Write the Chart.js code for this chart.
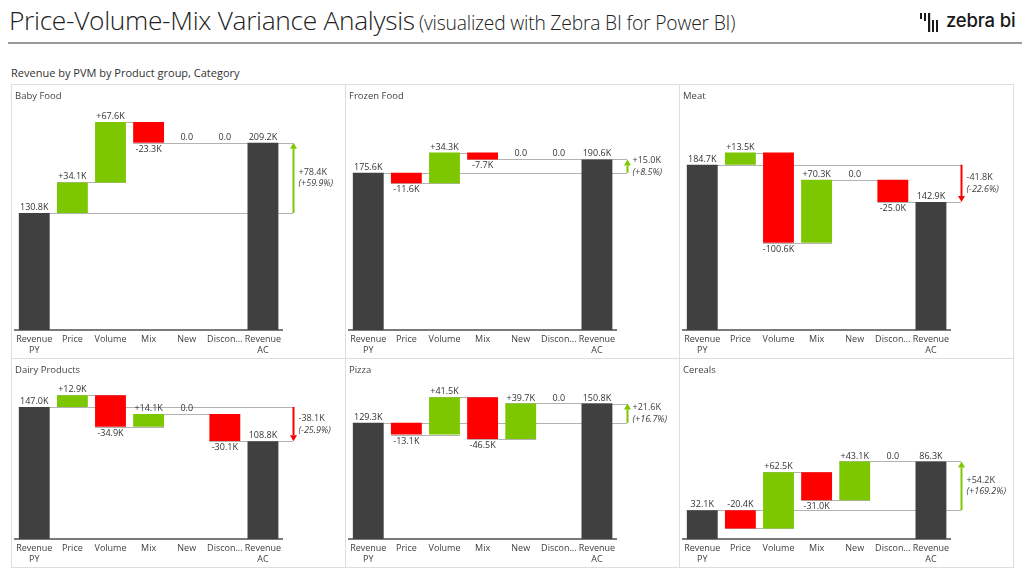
<!DOCTYPE html>
<html>
<head>
<meta charset="utf-8">
<script src="https://cdn.jsdelivr.net/npm/chart.js@4.4.1/dist/chart.umd.min.js"></script>
<style>
  html,body{margin:0;padding:0;background:#fff;}
  body{width:1030px;height:577px;position:relative;overflow:hidden;font-family:"Open Sans","Noto Sans",sans-serif;color:#333;}
  #title{position:absolute;left:9px;top:2px;white-space:nowrap;color:#222;}
  #title .main{font-size:26.3px;font-weight:300;letter-spacing:-0.3px;}
  #title .sub{font-size:19.3px;font-weight:300;letter-spacing:-0.2px;}
  #rule{position:absolute;left:8px;top:42px;width:1014px;height:2px;background:#9a9a9a;}
  #logo{position:absolute;left:919px;top:10px;}
  #logotext{position:absolute;left:946px;top:9px;font-family:Inter,"Open Sans",sans-serif;font-size:18.5px;font-weight:500;color:#1a1a1a;letter-spacing:-0.2px;}
  #caption{position:absolute;left:11px;top:65px;font-size:11px;color:#333;}
  .panel{position:absolute;box-sizing:border-box;border:1px solid #dedede;}
  .panel .ptitle{position:absolute;left:3px;top:4px;font-size:9.5px;color:#444;}
  .panel canvas{position:absolute;left:0;top:0;}
</style>
</head>
<body>
<div id="title"><span class="main">Price-Volume-Mix Variance Analysis</span> <span class="sub">(visualized with Zebra BI for Power BI)</span></div>
<svg id="logo" width="26" height="24" viewBox="0 0 26 24">
  <rect x="1" y="3" width="2" height="6" fill="#1a1a1a"/>
  <rect x="5" y="3" width="2" height="8" fill="#1a1a1a"/>
  <rect x="9" y="3" width="2.2" height="19" fill="#1a1a1a"/>
  <rect x="13" y="10" width="2" height="12" fill="#1a1a1a"/>
  <rect x="17" y="10" width="2" height="12" fill="#1a1a1a"/>
</svg>
<div id="logotext">zebra bi</div>
<div id="rule"></div>
<div id="caption">Revenue by PVM by Product group, Category</div>
<div id="panels"></div>
<script>
// ---------------- DATA ----------------
const categories = ['Revenue PY','Price','Volume','Mix','New','Discontinued','Revenue AC'];
const tickLabels = [['Revenue','PY'],'Price','Volume','Mix','New','Discon...',['Revenue','AC']];
const productGroups = ['Baby Food','Frozen Food','Meat','Dairy Products','Pizza','Cereals'];
const revenuePY         = [130.8, 175.6, 184.7, 147.0, 129.3, 32.1];
const priceEffect       = [ 34.1, -11.6,  13.5,  12.9, -13.1, -20.4];
const volumeEffect      = [ 67.6,  34.3,-100.6, -34.9,  41.5,  62.5];
const mixEffect         = [-23.3,  -7.7,  70.3,  14.1, -46.5, -31.0];
const newEffect         = [  0.0,   0.0,   0.0,   0.0,  39.7,  43.1];
const discontinuedEffect= [  0.0,   0.0, -25.0, -30.1,   0.0,   0.0];
const revenueAC         = [209.2, 190.6, 142.9, 108.8, 150.8,  86.3];
const varianceAbs       = [ 78.4,  15.0, -41.8, -38.1,  21.6,  54.2];
const variancePct       = [ 59.9,   8.5, -22.6, -25.9,  16.7, 169.2];

// ---------------- STYLE / LAYOUT ----------------
const COL_TOTAL = '#404040', COL_POS = '#7cc700', COL_NEG = '#ff0000', COL_LINE = '#b3b3b3';
const FONT = '"Open Sans","Noto Sans",sans-serif';
const rows = [
  {top:84, height:274, yMax:257, padTop:15},
  {top:358, height:209, yMax:177, padTop:21}
];
const panelLeft0 = 11, panelW = 334;

function fmtK(v, signed){
  const a = Math.abs(v).toFixed(1);
  if (!signed) return a + 'K';
  if (Math.abs(v) < 0.05) return '0.0';
  return (v > 0 ? '+' : '-') + a + 'K';
}

function makePlugin(idx, steps){
  return {
    id: 'wf' + idx,
    beforeDatasetsDraw(chart){
      const ctx = chart.ctx, y = chart.scales.y, bars = chart.getDatasetMeta(0).data;
      const arrowX = chart.chartArea.right + 11;
      ctx.save();
      ctx.strokeStyle = COL_LINE; ctx.lineWidth = 1;
      const hl = (x1, x2, v) => {
        const py = Math.round(y.getPixelForValue(v)) + 0.5;
        ctx.beginPath(); ctx.moveTo(x1, py); ctx.lineTo(x2, py); ctx.stroke();
      };
      for (let i = 0; i < steps.length - 1; i++){
        const b0 = bars[i], b1 = bars[i+1];
        hl(b0.x - b0.width/2, b1.x + b1.width/2, steps[i].end);
      }
      hl(bars[0].x - bars[0].width/2, arrowX, revenuePY[idx]);
      hl(bars[6].x - bars[6].width/2, arrowX, revenueAC[idx]);
      ctx.restore();
    },
    afterDatasetsDraw(chart){
      const ctx = chart.ctx, y = chart.scales.y, bars = chart.getDatasetMeta(0).data;
      const area = chart.chartArea;
      ctx.save();
      ctx.font = '9px ' + FONT;
      ctx.fillStyle = '#333';
      ctx.textAlign = 'center';
      steps.forEach((s, i) => {
        const b = bars[i];
        const hi = Math.max(s.start, s.end), lo = Math.min(s.start, s.end);
        const yTop = y.getPixelForValue(hi), yBot = y.getPixelForValue(lo);
        let text, above = true;
        if (s.total){ text = fmtK(s.end, false); }
        else {
          text = fmtK(s.delta, true);
          if (s.delta < -0.05 && yBot + 13 < area.bottom - 1) above = false;
        }
        if (above){ ctx.textBaseline = 'bottom'; ctx.fillText(text, b.x, yTop - 1); }
        else { ctx.textBaseline = 'top'; ctx.fillText(text, b.x, yBot + 2); }
      });
      const arrowX = area.right + 11.5;
      const yPY = y.getPixelForValue(revenuePY[idx]);
      const yAC = y.getPixelForValue(revenueAC[idx]);
      const up = revenueAC[idx] >= revenuePY[idx];
      const col = up ? COL_POS : COL_NEG;
      const head = 6, dir = up ? 1 : -1;
      ctx.strokeStyle = col; ctx.fillStyle = col; ctx.lineWidth = 2;
      ctx.beginPath(); ctx.moveTo(arrowX, yPY); ctx.lineTo(arrowX, yAC + dir*head); ctx.stroke();
      ctx.beginPath();
      ctx.moveTo(arrowX, yAC);
      ctx.lineTo(arrowX - 3.5, yAC + dir*head);
      ctx.lineTo(arrowX + 3.5, yAC + dir*head);
      ctx.closePath(); ctx.fill();
      const mid = (yPY + yAC)/2;
      ctx.fillStyle = '#404040'; ctx.textAlign = 'left'; ctx.textBaseline = 'middle';
      const sgn = varianceAbs[idx] >= 0 ? '+' : '-';
      ctx.font = '9px ' + FONT;
      ctx.fillText(sgn + Math.abs(varianceAbs[idx]).toFixed(1) + 'K', arrowX + 5, mid - 5.5);
      ctx.font = 'italic 9px ' + FONT;
      ctx.fillText('(' + sgn + Math.abs(variancePct[idx]).toFixed(1) + '%)', arrowX + 5, mid + 6);
      ctx.restore();
    }
  };
}

const container = document.getElementById('panels');
productGroups.forEach((name, idx) => {
  const row = rows[Math.floor(idx/3)], col = idx % 3;
  const div = document.createElement('div');
  div.className = 'panel';
  div.style.left = (panelLeft0 + col*panelW) + 'px';
  div.style.top = row.top + 'px';
  div.style.width = (panelW + 1) + 'px';
  div.style.height = (row.height + 1) + 'px';
  const cv = document.createElement('canvas');
  const cw = panelW - 1, ch = row.height - 1;
  cv.width = cw; cv.height = ch;
  cv.style.width = cw + 'px'; cv.style.height = ch + 'px';
  div.appendChild(cv);
  const t = document.createElement('div'); t.className = 'ptitle'; t.textContent = name;
  div.appendChild(t);
  container.appendChild(div);

  const deltas = [priceEffect[idx], volumeEffect[idx], mixEffect[idx], newEffect[idx], discontinuedEffect[idx]];
  const steps = [{start:0, end:revenuePY[idx], total:true}];
  let run = revenuePY[idx];
  deltas.forEach(d => { steps.push({start:run, end:run + d, delta:d}); run += d; });
  steps.push({start:0, end:revenueAC[idx], total:true});

  const barData = steps.map(s => [Math.min(s.start, s.end), Math.max(s.start, s.end)]);
  const colors = steps.map(s => s.total ? COL_TOTAL : (s.delta >= 0 ? COL_POS : COL_NEG));

  new Chart(cv, {
    type: 'bar',
    data: {
      labels: tickLabels,
      datasets: [{ data: barData, backgroundColor: colors, borderWidth: 0,
                   categoryPercentage: 1, barPercentage: 0.81, borderSkipped: false }]
    },
    options: {
      responsive: false, animation: false, devicePixelRatio: 1,
      layout: { padding: { left: 2, right: cw - 2 - 268, top: row.padTop, bottom: 0 } },
      plugins: { legend: {display:false}, tooltip: {enabled:false} },
      scales: {
        x: {
          grid: { display: false, drawTicks: false },
          border: { display: true, color: '#7a7a7a', width: 2 },
          ticks: { color: '#404040', font: { family: FONT, size: 9 }, padding: 4, maxRotation: 0, autoSkip: false },
          afterFit: s => { s.height = 28; }
        },
        y: { display: false, min: 0, max: row.yMax }
      }
    },
    plugins: [makePlugin(idx, steps)]
  });
});
</script>
</body>
</html>
